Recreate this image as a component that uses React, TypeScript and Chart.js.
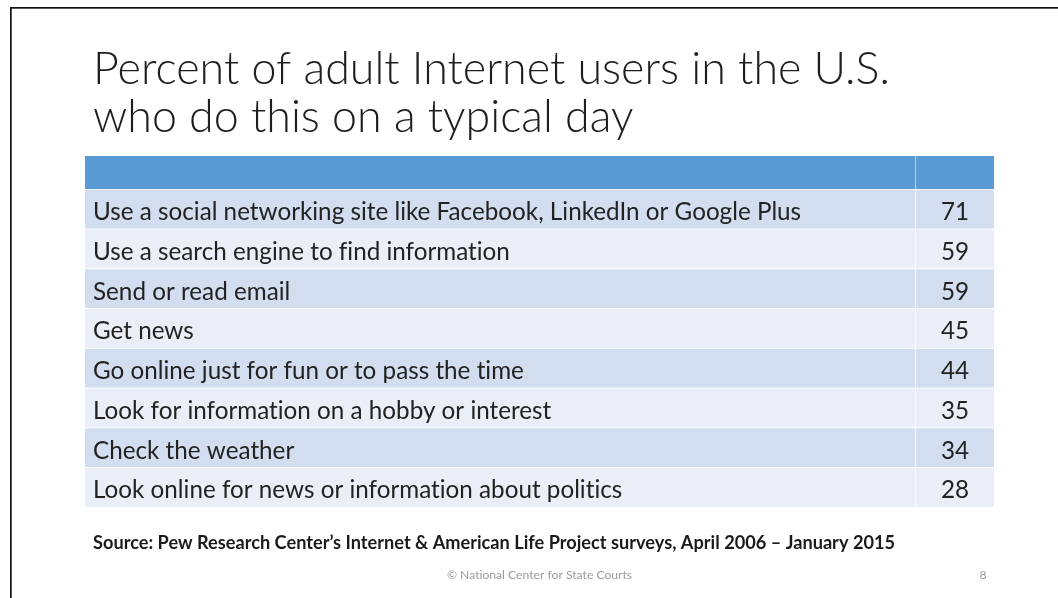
import React, { useEffect, useRef } from "react";
import { Chart, registerables } from "chart.js";

Chart.register(...registerables);

const TITLE_LINES = [
  "Percent of adult Internet users in the U.S.",
  "who do this on a typical day",
];
const ACTIVITIES = [
  "Use a social networking site like Facebook, LinkedIn or Google Plus",
  "Use a search engine to find information",
  "Send or read email",
  "Get news",
  "Go online just for fun or to pass the time",
  "Look for information on a hobby or interest",
  "Check the weather",
  "Look online for news or information about politics",
];
const PERCENTS = [71, 59, 59, 45, 44, 35, 34, 28];
const SOURCE = "Source: Pew Research Center\u2019s Internet & American Life Project surveys, April 2006 \u2013 January 2015";
const FOOTER = "\u00A9 National Center for State Courts";
const PAGE = "8";

// layout (column widths in px-like units)
const LABEL_COL = 831;
const VALUE_COL = 78;
const TOTAL = LABEL_COL + VALUE_COL;
const HEADER_H = 33;

const FONT = "Lato, 'Open Sans', 'Noto Sans', sans-serif";

function fitSize(ctx: CanvasRenderingContext2D, text: string, weight: string, target: number) {
  ctx.font = `${weight} 100px ${FONT}`;
  const w = ctx.measureText(text).width;
  return (100 * target) / w;
}

const tablePlugin = {
  id: "tablePlugin",
  beforeDatasetsDraw(chart: any) {
    const { ctx, chartArea, scales } = chart;
    const x = scales.x;
    const x0 = x.getPixelForValue(0);
    const x1 = x.getPixelForValue(LABEL_COL);
    const x2 = x.getPixelForValue(TOTAL);
    const top = chartArea.top - HEADER_H;
    ctx.save();
    ctx.fillStyle = "#5B9BD5";
    ctx.fillRect(x0, top, x2 - x0, HEADER_H);
    ctx.fillStyle = "rgba(255,255,255,0.55)";
    ctx.fillRect(x1 - 1, top, 1, HEADER_H);
    ctx.restore();
  },
  afterDraw(chart: any) {
    const { ctx, chartArea, scales } = chart;
    const x = scales.x;
    const y = scales.y;
    ctx.save();
    try { (ctx as any).letterSpacing = "0.01px"; } catch (e) {}
    // slide frame
    ctx.fillStyle = "#111";
    ctx.fillRect(10, 7, 1048, 1.7);
    ctx.fillRect(10, 7, 1.7, 591);

    // title
    const tSize = fitSize(ctx, TITLE_LINES[0], "300", 797);
    ctx.font = `300 ${tSize}px ${FONT}`;
    ctx.fillStyle = "#1e1e1e";
    ctx.textAlign = "left";
    ctx.textBaseline = "alphabetic";
    ctx.fillText(TITLE_LINES[0], 93, 84);
    ctx.fillText(TITLE_LINES[1], 93, 132);

    // rows
    const x0 = x.getPixelForValue(0);
    const x1 = x.getPixelForValue(LABEL_COL);
    const x2 = x.getPixelForValue(TOTAL);
    const rowH = (chartArea.bottom - chartArea.top) / ACTIVITIES.length;
    const rSize = fitSize(ctx, ACTIVITIES[0], "400", 708);
    ctx.font = `400 ${rSize}px ${FONT}`;
    ctx.fillStyle = "#222";
    ACTIVITIES.forEach((label, i) => {
      const cy = y.getPixelForValue(i) + rowH * 0.28;
      ctx.textAlign = "left";
      ctx.fillText(label, x0 + 8, cy);
      ctx.textAlign = "center";
      ctx.fillText(String(PERCENTS[i]), (x1 + x2) / 2, cy);
    });

    // source
    const sSize = fitSize(ctx, SOURCE, "700", 802);
    ctx.font = `700 ${sSize}px ${FONT}`;
    ctx.textAlign = "left";
    ctx.fillStyle = "#1a1a1a";
    ctx.fillText(SOURCE, 93, 549);

    // footer
    const fSize = fitSize(ctx, FOOTER, "400", 185);
    ctx.font = `400 ${fSize}px ${FONT}`;
    ctx.fillStyle = "#9a9a9a";
    ctx.textAlign = "center";
    ctx.fillText(FOOTER, 539.5, 579);
    ctx.fillText(PAGE, 983, 579);
    ctx.restore();
  },
};

export default function App() {
  const ref = useRef<HTMLCanvasElement | null>(null);
  useEffect(() => {
    if (!ref.current) return;
    const rowColors = ACTIVITIES.map((_, i) => (i % 2 === 0 ? "#D2DEEF" : "#EAEFF7"));
    const chart = new Chart(ref.current, {
      type: "bar",
      data: {
        labels: ACTIVITIES,
        datasets: [
          {
            label: "Activity",
            data: ACTIVITIES.map(() => [0, LABEL_COL]) as any,
            backgroundColor: rowColors,
            borderColor: "#ffffff",
            borderWidth: { top: 1, right: 1, bottom: 0, left: 0 } as any,
            borderSkipped: false,
            grouped: false,
            barPercentage: 1,
            categoryPercentage: 1,
          } as any,
          {
            label: "Percent",
            data: PERCENTS.map(() => [LABEL_COL, TOTAL]) as any,
            backgroundColor: rowColors,
            borderColor: "#ffffff",
            borderWidth: { top: 1, right: 0, bottom: 0, left: 0 } as any,
            borderSkipped: false,
            grouped: false,
            barPercentage: 1,
            categoryPercentage: 1,
          } as any,
        ],
      },
      options: {
        indexAxis: "y",
        responsive: false,
        animation: false,
        devicePixelRatio: 1,
        layout: { padding: { left: 85, right: 64, top: 189, bottom: 91 } },
        scales: {
          x: { type: "linear", min: 0, max: TOTAL, display: false },
          y: { type: "category", display: false, offset: true },
        },
        plugins: {
          legend: { display: false },
          tooltip: { enabled: false },
          title: { display: false },
        },
      },
      plugins: [tablePlugin],
    });
    return () => chart.destroy();
  }, []);
  return (
    <div style={{ position: "fixed", left: 0, top: 0, width: 1058, height: 598, background: "#fff" }}>
      <canvas ref={ref} width={1058} height={598} style={{ display: "block", width: 1058, height: 598 }} />
    </div>
  );
}
